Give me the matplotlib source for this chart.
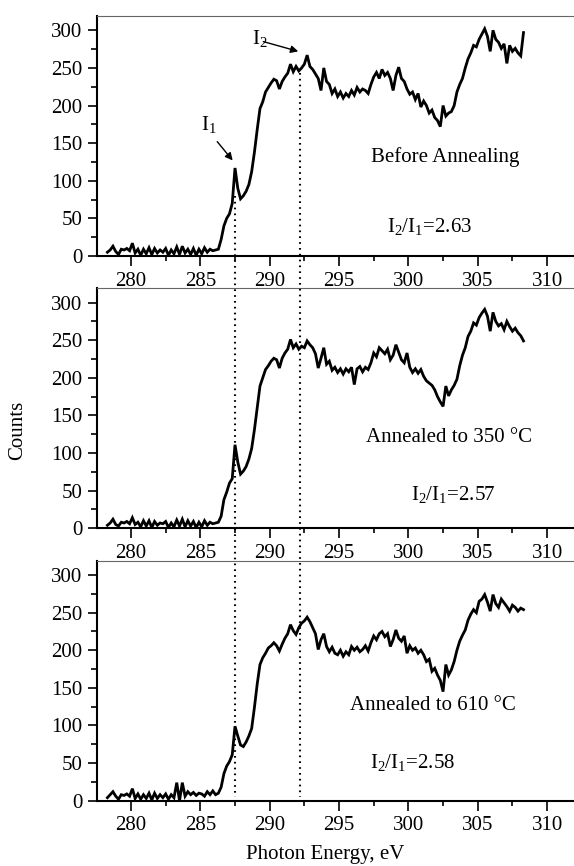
import numpy as np
import matplotlib
matplotlib.use("Agg")
import matplotlib.pyplot as plt
from matplotlib.lines import Line2D
from matplotlib.ticker import MultipleLocator

plt.rcParams['font.family'] = ['Liberation Serif', 'DejaVu Serif']
plt.rcParams['mathtext.fontset'] = 'custom'
plt.rcParams['mathtext.rm'] = 'Liberation Serif'
plt.rcParams['mathtext.it'] = 'Liberation Serif:italic'

# photon energy grid (eV), 0.2 eV steps
energy = np.round(278.3 + 0.2 * np.arange(151), 1)

counts_before = [
    5, 8, 13, 6, 2, 9, 8, 10, 7, 17,
    4, 9, 1, 9, 3, 11, 2, 10, 4, 8,
    5, 10, 1, 8, 3, 12, 2, 13, 4, 9,
    2, 10, 1, 9, 3, 11, 5, 9, 7, 8,
    9, 22, 40, 50, 56, 70, 117, 90, 76, 80,
    86, 95, 112, 138, 168, 196, 205, 218, 224, 230,
    235, 233, 222, 232, 238, 243, 255, 245, 252, 246,
    250, 255, 267, 252, 248, 242, 236, 220, 250, 232,
    228, 216, 222, 212, 218, 210, 216, 212, 220, 214,
    224, 218, 222, 220, 216, 228, 238, 244, 236, 248,
    240, 244, 236, 220, 240, 251, 236, 232, 222, 215,
    218, 208, 216, 198, 206, 200, 190, 194, 184, 180,
    172, 200, 186, 190, 192, 200, 218, 228, 236, 250,
    262, 270, 280, 278, 288, 295, 302, 292, 272, 300,
    288, 284, 276, 282, 256, 280, 272, 276, 270, 266,
    297,
]

counts_350 = [
    4, 7, 12, 5, 3, 8, 7, 9, 6, 14,
    5, 8, 2, 10, 3, 10, 1, 9, 4, 7,
    6, 9, 1, 7, 2, 11, 3, 12, 2, 10,
    3, 9, 1, 8, 2, 10, 4, 8, 6, 7,
    8, 16, 38, 48, 60, 66, 111, 88, 72, 76,
    82, 92, 106, 131, 160, 189, 200, 211, 216, 222,
    226, 224, 213, 226, 233, 238, 251, 240, 245, 238,
    242, 240, 249, 244, 240, 232, 213, 226, 240, 218,
    222, 210, 214, 207, 212, 205, 212, 208, 214, 191,
    212, 215, 208, 214, 211, 220, 233, 228, 240, 236,
    232, 238, 224, 230, 244, 234, 224, 220, 233, 214,
    207, 212, 206, 211, 202, 196, 193, 190, 184, 175,
    168, 162, 189, 176, 184, 190, 198, 216, 230, 240,
    255, 262, 273, 270, 280, 286, 291, 282, 262, 287,
    275, 269, 272, 264, 275, 268, 262, 266, 260, 256,
    249,
]

counts_610 = [
    4, 8, 12, 6, 2, 8, 7, 9, 6, 16,
    3, 9, 2, 8, 3, 10, 1, 10, 3, 8,
    4, 9, 2, 8, 4, 24, 0, 24, 6, 12,
    8, 11, 7, 10, 9, 6, 12, 8, 13, 8,
    10, 18, 36, 46, 52, 61, 99, 86, 74, 72,
    78, 86, 96, 124, 155, 181, 190, 196, 203, 206,
    210, 206, 199, 208, 216, 222, 234, 226, 221, 230,
    236, 239, 244, 238, 230, 222, 201, 214, 222, 205,
    198, 204, 196, 194, 200, 192, 198, 194, 205, 200,
    204, 198, 201, 206, 199, 210, 219, 214, 222, 225,
    218, 222, 205, 214, 227, 216, 212, 219, 196, 206,
    200, 203, 196, 200, 194, 185, 188, 172, 176, 167,
    160, 145, 181, 167, 174, 185, 200, 212, 220, 227,
    240, 248, 254, 250, 265, 268, 274, 264, 252, 274,
    262, 257, 268, 263, 258, 252, 260, 257, 252, 256,
    254,
]

panel_labels = ["Before Annealing", "Annealed to 350 \u00b0C", "Annealed to 610 \u00b0C"]
ratios = ["2.63", "2.57", "2.58"]
peak_i1 = 287.5
peak_i2 = 292.2

series = [counts_before, counts_350, counts_610]
label_pos = [(302.64, 125), (302.93, 115), (301.74, 121)]
ratio_pos = [(301.56, 32), (303.2, 38), (300.27, 43)]

fig = plt.figure(figsize=(5.74, 8.66), dpi=100)
left = 97 / 574
width = 1 - left
bottoms = [0.7044, 0.3900, 0.0754]
height = 0.2771

FS = 15
axes = []
for k in range(3):
    ax = fig.add_axes([left, bottoms[k], width, height])
    ax.plot(energy, series[k], color='black', lw=2.0, solid_joinstyle='miter')
    ax.set_xlim(277.55, 311.94)
    ax.set_ylim(0, 319)
    ax.xaxis.set_major_locator(MultipleLocator(5))
    ax.xaxis.set_minor_locator(MultipleLocator(2.5))
    ax.yaxis.set_major_locator(MultipleLocator(50))
    ax.yaxis.set_minor_locator(MultipleLocator(25))
    ax.tick_params(which='major', direction='out', width=1.2, labelsize=FS, pad=4)
    ax.tick_params(axis='x', which='major', length=7.2)
    ax.tick_params(axis='y', which='major', length=6.7)
    ax.tick_params(axis='x', which='minor', direction='out', length=3.6, width=1.2)
    ax.tick_params(axis='y', which='minor', direction='out', length=4.3, width=1.2)
    ax.spines['right'].set_visible(False)
    ax.spines['top'].set_color('#666666')
    ax.spines['top'].set_linewidth(0.8)
    ax.spines['left'].set_linewidth(1.5)
    ax.spines['bottom'].set_linewidth(1.5)
    ax.text(*label_pos[k], panel_labels[k], ha='center', va='baseline', fontsize=FS)
    ax.text(*ratio_pos[k], r'I$_2$/I$_1$=' + ratios[k], ha='center', va='baseline', fontsize=FS)
    axes.append(ax)

ax1 = axes[0]
arrow = dict(arrowstyle='-|>', color='black', lw=1.0, mutation_scale=11,
             shrinkA=0, shrinkB=0)
ax1.annotate('', xy=(287.33, 127), xytext=(286.22, 152), arrowprops=arrow)
ax1.annotate('', xy=(292.06, 272), xytext=(289.54, 285), arrowprops=arrow)
ax1.text(285.08, 168, r'I$_1$', ha='left', va='baseline', fontsize=FS)
ax1.text(288.7, 282, r'I$_2$', ha='left', va='baseline', fontsize=FS)

# dotted guides through all three panels at the two peak energies
to_fig = fig.transFigure.inverted()
for xe, ytop in [(peak_i1, 80), (peak_i2, 243)]:
    p_top = to_fig.transform(ax1.transData.transform((xe, ytop)))
    p_bot = to_fig.transform(axes[2].transData.transform((xe, 5)))
    guide = Line2D([p_top[0], p_bot[0]], [p_top[1], p_bot[1]],
                   transform=fig.transFigure, color='black', lw=1.5,
                   linestyle=(0, (0.8, 2.0)), dash_capstyle='butt')
    fig.add_artist(guide)

fig.text(18 / 574, 1 - 430 / 866, 'Counts', rotation=90, ha='center', va='center', fontsize=FS)
fig.text(325 / 574, 1 - 855 / 866, 'Photon Energy, eV', ha='center', va='center', fontsize=FS)

fig.savefig('out.png', dpi=100)
